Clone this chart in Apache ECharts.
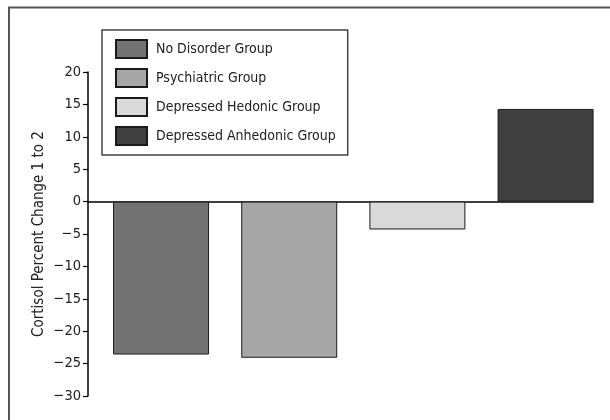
<!DOCTYPE html>
<html>
<head>
<meta charset="utf-8">
<script src="https://cdn.jsdelivr.net/npm/echarts@6/dist/echarts.min.js"></script>
<style>
html,body{margin:0;padding:0;background:#fff;}
#chart{width:610px;height:420px;}
</style>
</head>
<body>
<div id="chart"></div>
<script>
// Data
const groupNames = ['No Disorder Group', 'Psychiatric Group', 'Depressed Hedonic Group', 'Depressed Anhedonic Group'];
const groupPositions = [1, 2, 3, 4];
const cortisolChange = [-23.6, -24.1, -4.3, 14.3];
const groupColors = ['#737373', '#a6a6a6', '#d9d9d9', '#404040'];
const yTicks = { min: -30, max: 20, interval: 5 };

const FONT = '"DejaVu Sans Condensed", "Liberation Sans", sans-serif';

const chart = echarts.init(document.getElementById('chart'), null, { renderer: 'canvas' });

const series = groupNames.map((name, i) => ({
  name: name,
  type: 'bar',
  data: [[groupPositions[i], cortisolChange[i]]],
  barWidth: 96,
  barGap: '-100%',
  itemStyle: { color: groupColors[i], borderColor: '#1a1a1a', borderWidth: 1 },
  emphasis: { disabled: true }
}));

chart.setOption({
  animation: false,
  backgroundColor: '#fff',
  graphic: [{
    type: 'rect',
    shape: { x: 9, y: 7.5, width: 700, height: 500 },
    style: { fill: 'none', stroke: '#555', lineWidth: 2 },
    silent: true
  }],
  grid: { left: 88, right: 17, top: 72, bottom: 24, containLabel: false },
  legend: {
    orient: 'vertical',
    left: 102,
    top: 30,
    padding: [9, 12, 9, 13],
    itemGap: 9,
    itemWidth: 31,
    itemHeight: 18,
    icon: 'rect',
    borderColor: '#444',
    borderWidth: 1.5,
    backgroundColor: '#fff',
    selectedMode: false,
    textStyle: { fontFamily: FONT, fontSize: 14, color: '#222', padding: [0, 0, 0, 4] },
    data: groupNames
  },
  xAxis: {
    type: 'value',
    min: 0.43,
    max: 4.37,
    axisLine: { show: true, onZero: true, lineStyle: { color: '#000', width: 1.5 } },
    axisTick: { show: false },
    axisLabel: { show: false },
    splitLine: { show: false }
  },
  yAxis: {
    type: 'value',
    min: yTicks.min,
    max: yTicks.max,
    interval: yTicks.interval,
    name: 'Cortisol Percent Change 1 to 2',
    nameLocation: 'middle',
    nameMoveOverlap: false,
    nameGap: 41,
    nameTextStyle: { fontFamily: FONT, fontSize: 15, color: '#222' },
    axisLine: { show: true, lineStyle: { color: '#000', width: 1.5 } },
    axisTick: { show: true, length: 5, lineStyle: { color: '#000', width: 1.2 } },
    axisLabel: {
      fontFamily: FONT, fontSize: 14.5, color: '#222', margin: 7,
      formatter: v => String(v).replace('-', '\u2212')
    },
    splitLine: { show: false }
  },
  series: series
});
</script>
</body>
</html>
